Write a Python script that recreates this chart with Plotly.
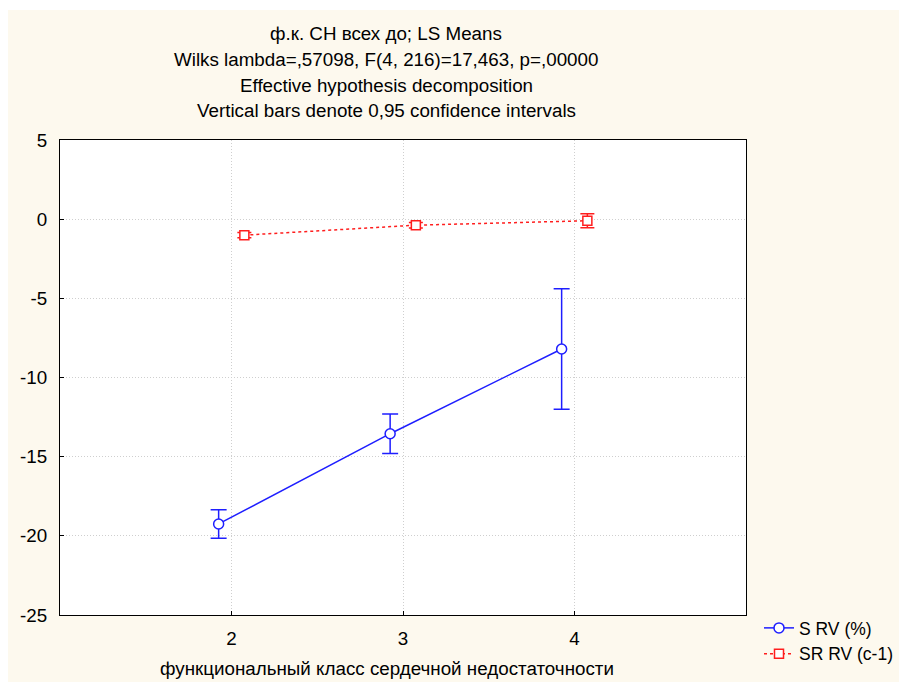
import plotly.graph_objects as go

# ---- data ----
classes = [2, 3, 4]
s_rv_mean = [-19.25, -13.55, -8.2]
s_rv_ci = [0.9, 1.25, 3.8]
sr_rv_mean = [-1.01, -0.38, -0.1]
sr_rv_ci = [0.17, 0.17, 0.44]
y_tickvals = [5, 0, -5, -10, -15, -20, -25]
y_ticktext = ["5", "0", "-5", "-10", "-15", "-20", "-25"]
x_tickvals = [2, 3, 4]
x_ticktext = ["2", "3", "4"]
title_lines = [
    "ф.к. СН всех до; LS Means",
    "Wilks lambda=,57098, F(4, 216)=17,463, p=,00000",
    "Effective hypothesis decomposition",
    "Vertical bars denote 0,95 confidence intervals",
]
x_title = "функциональный класс сердечной недостаточности"
series_names = ["S RV (%)", "SR RV (c-1)"]

# ---- layout constants ----
W, H = 899, 682
L, R, T, B = 60, 746, 140, 615
FONT = "Liberation Sans, Arial, sans-serif"
FS = 18.8
LFS = 17.5
CREAM = "#FDF9EE"
BLUE = "#1E1EFF"
RED = "#FF1E1E"
dx = 0.075

def px_x(p):
    return (p - L) / (R - L)

def px_y(p):
    return (B - p) / (B - T)

fig = go.Figure()

fig.add_trace(go.Scatter(
    x=[c - dx for c in classes], y=s_rv_mean, name=series_names[0],
    mode="lines+markers",
    line=dict(color=BLUE, width=1.5),
    marker=dict(symbol="circle", size=10, color="white", line=dict(color=BLUE, width=1.5)),
    error_y=dict(type="data", array=s_rv_ci, color=BLUE, thickness=1.5, width=8),
))
fig.add_trace(go.Scatter(
    x=[c + dx for c in classes], y=sr_rv_mean, name=series_names[1],
    mode="lines+markers",
    line=dict(color=RED, width=1.5, dash="dot"),
    marker=dict(symbol="square", size=9, color="white", line=dict(color=RED, width=1.5)),
    error_y=dict(type="data", array=sr_rv_ci, color=RED, thickness=1.5, width=7),
))

# white strips around the cream background
shapes = [
    dict(type="rect", xref="paper", yref="paper", layer="below",
         x0=px_x(-5), x1=px_x(W + 5), y0=px_y(10), y1=px_y(-5),
         fillcolor="white", line=dict(width=0)),
    dict(type="rect", xref="paper", yref="paper", layer="below",
         x0=px_x(-5), x1=px_x(8), y0=px_y(H + 5), y1=px_y(-5),
         fillcolor="white", line=dict(width=0)),
]

annotations = []
for i, (txt, yc) in enumerate(zip(title_lines, [33, 60, 86, 111])):
    annotations.append(dict(
        text=txt, xref="paper", yref="paper", x=px_x(386), y=px_y(yc),
        xanchor="center", yanchor="middle", showarrow=False,
        font=dict(family=FONT, size=FS, color="black"),
    ))
annotations.append(dict(
    text=x_title, xref="paper", yref="paper", x=px_x(387), y=px_y(668),
    xanchor="center", yanchor="middle", showarrow=False,
    font=dict(family=FONT, size=FS, color="black"),
))

axis_common = dict(
    showline=True, linecolor="black", linewidth=1, mirror=True,
    showgrid=True, gridcolor="#CFCFCF", griddash="1px,2px", gridwidth=1,
    ticks="inside", ticklen=4, tickcolor="black",
    zeroline=False, tickfont=dict(family=FONT, size=FS, color="black"),
)

fig.update_layout(
    width=W, height=H, autosize=False,
    margin=dict(l=L, r=W - R, t=T, b=H - B, pad=0, autoexpand=False),
    paper_bgcolor=CREAM, plot_bgcolor="white",
    font=dict(family=FONT, size=FS, color="black"),
    showlegend=True,
    legend=dict(
        x=px_x(759), y=px_y(610), xanchor="left", yanchor="top",
        bgcolor="rgba(0,0,0,0)", itemwidth=30, tracegroupgap=0,
        font=dict(family=FONT, size=LFS, color="black"),
    ),
    shapes=shapes,
    annotations=annotations,
    xaxis=dict(range=[1, 5], tickvals=x_tickvals, ticktext=x_ticktext,
               ticklabelstandoff=6, **axis_common),
    yaxis=dict(range=[-25, 5], tickvals=y_tickvals, ticktext=y_ticktext,
               ticklabelstandoff=8, **axis_common),
)

fig.write_html("out.html")
